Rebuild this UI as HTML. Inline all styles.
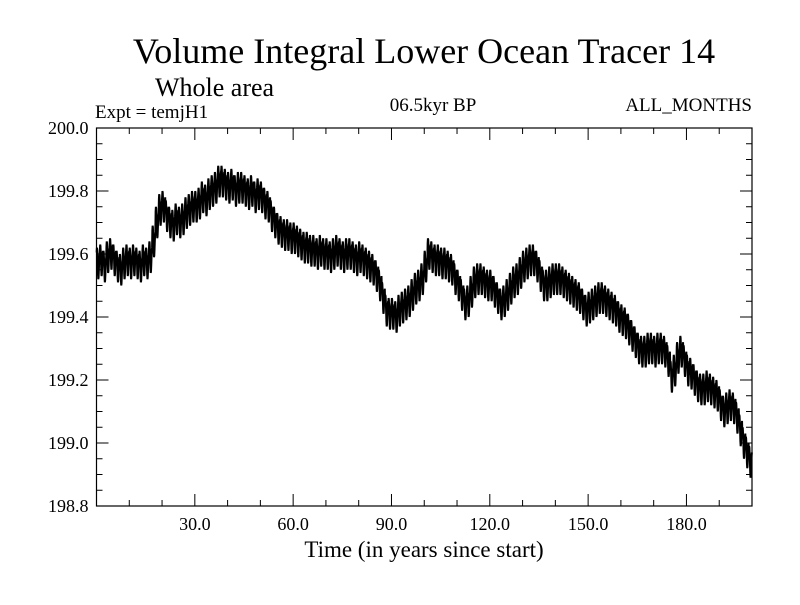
<!DOCTYPE html>
<html><head><meta charset="utf-8"><style>
body{margin:0;background:#fff}
svg text{font-family:"Liberation Serif",serif;fill:#000}
</style></head><body>
<svg id="chart" width="800" height="600" viewBox="0 0 800 600" xmlns="http://www.w3.org/2000/svg">
<rect width="800" height="600" fill="#fff"/>
<text x="424" y="63" font-size="36" text-anchor="middle">Volume Integral Lower Ocean Tracer 14</text>
<text x="155" y="96" font-size="26">Whole area</text>
<text x="95" y="118" font-size="19">Expt = temjH1</text>
<text x="433" y="111" font-size="19" text-anchor="middle">06.5kyr BP</text>
<text x="752" y="111" font-size="19" text-anchor="end">ALL_MONTHS</text>
<g id="axes"></g>
<path id="series" fill="none" stroke="#000" stroke-width="2"/>
<rect x="96.5" y="128" width="655.5" height="378" fill="none" stroke="#000" stroke-width="1.2"/>
<text x="424" y="557" font-size="23" text-anchor="middle">Time (in years since start)</text>
</svg>
<script>
const BASE = 199;
const yearlyMeans = [
.57,.58,.56,.59,.60,.58,.56,.55,.57,.58,
.57,.58,.57,.56,.58,.57,.59,.64,.70,.74,
.75,.72,.70,.69,.71,.70,.71,.73,.74,.75,
.75,.76,.78,.77,.79,.80,.81,.83,.83,.82,
.81,.82,.80,.81,.81,.80,.79,.80,.78,.79,
.78,.76,.75,.72,.70,.68,.67,.66,.66,.65,
.65,.64,.63,.62,.62,.61,.61,.60,.61,.60,
.60,.59,.60,.61,.60,.59,.60,.60,.59,.58,
.59,.58,.57,.56,.55,.53,.50,.46,.42,.41,
.41,.40,.42,.43,.44,.45,.47,.49,.50,.52,
.56,.60,.59,.58,.58,.57,.57,.56,.55,.52,
.50,.47,.44,.45,.48,.51,.52,.52,.51,.50,
.50,.48,.46,.44,.45,.47,.49,.51,.52,.54,
.56,.57,.58,.58,.56,.53,.50,.50,.51,.52,
.52,.52,.51,.50,.49,.48,.47,.46,.44,.42,
.43,.44,.45,.46,.46,.45,.44,.43,.42,.40,
.39,.38,.36,.34,.32,.30,.29,.29,.30,.30,
.29,.30,.30,.29,.26,.21,.23,.27,.29,.26,
.23,.22,.20,.18,.17,.17,.18,.17,.16,.15,
.12,.10,.11,.12,.11,.08,.04,.00,-.03,-.06];
const seasonal = [0.035,0.05,0.045,0.025,-0.005,-0.035,-0.05,-0.045,-0.025,0.0,0.02,0.03];
const xTickLabels = ["30.0","60.0","90.0","120.0","150.0","180.0"];
const xTickValues = [30,60,90,120,150,180];
const yTickLabels = ["200.0","199.8","199.6","199.4","199.2","199.0","198.8"];
const yTickValues = [200.0,199.8,199.6,199.4,199.2,199.0,198.8];

const X0=96.5,X1=752,Y0=128,Y1=506;
const xs = v => X0 + (v-0)/(200-0)*(X1-X0);
const ys = v => Y0 + (200-v)/(200-198.8)*(Y1-Y0);
const NS="http://www.w3.org/2000/svg";
const axes=document.getElementById('axes');
function line(x1,y1,x2,y2,name){
  const l=document.createElementNS(NS,'line');
  l.setAttribute('x1',x1);l.setAttribute('y1',y1);l.setAttribute('x2',x2);l.setAttribute('y2',y2);
  l.setAttribute('stroke','#000');l.setAttribute('stroke-width','1');
  
  
  axes.appendChild(l);
}
function text(x,y,s,anchor,name){
  const t=document.createElementNS(NS,'text');
  t.setAttribute('x',x);t.setAttribute('y',y);t.setAttribute('font-size','18');t.setAttribute('text-anchor',anchor);
  t.textContent=s;
  
  
  axes.appendChild(t);
}
for(let v=10;v<200;v+=10){
  const major=v%30===0, L=major?12:6, x=xs(v);
  line(x,Y1,x,Y1-L,'x-tick');
  line(x,Y0,x,Y0+L,'x-tick-top');
}
xTickValues.forEach((v,i)=>text(xs(v),Y1+24,xTickLabels[i],'middle','x-tick-label'));
for(let k=1;k<24;k++){
  const v=200-k*0.05, major=k%4===0, L=major?12:6, y=ys(v);
  line(X0,y,X0+L,y,'y-tick');
  line(X1,y,X1-L,y,'y-tick-right');
}
yTickValues.forEach((v,i)=>text(X0-8,ys(v)+6,yTickLabels[i],'end','y-tick-label'));
let d='';
for(let yr=0;yr<yearlyMeans.length;yr++){
  for(let m=0;m<12;m++){
    const t=yr+(m+0.5)/12;
    const v=BASE+yearlyMeans[yr]+seasonal[m];
    d+=(d?'L':'M')+xs(t).toFixed(2)+' '+ys(v).toFixed(2);
  }
}
document.getElementById('series').setAttribute('d',d);
</script>
</body></html>
